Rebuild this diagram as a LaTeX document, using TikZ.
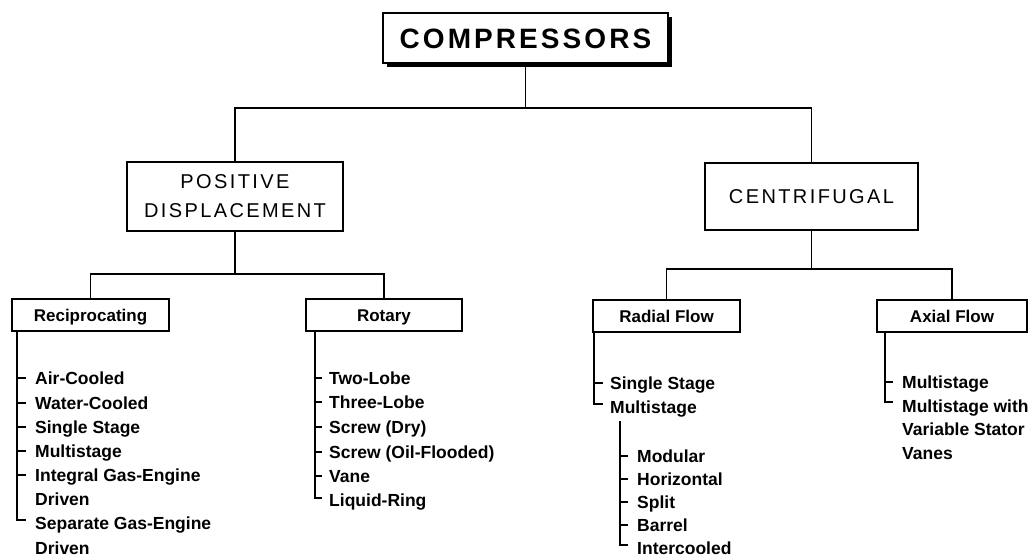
\documentclass[tikz,border=0pt]{standalone}
\usepackage{fontspec}
\setmainfont{Liberation Sans}
\usetikzlibrary{shadows}
\begin{document}
\begin{tikzpicture}[x=1pt,y=-1pt,
  topbox/.style={draw, line width=2.6pt, fill=white, minimum width=285pt, minimum height=50pt, inner sep=0pt,
     text height=20pt, text depth=0pt,
     drop shadow={shadow xshift=4pt, shadow yshift=-4pt, fill=black, opacity=1},
     font=\bfseries\addfontfeatures{LetterSpace=11}\fontsize{28}{32}\selectfont},
  midbox/.style={draw, line width=2pt, fill=white, inner sep=0pt, align=center,
     font=\addfontfeatures{LetterSpace=12}\fontsize{20}{29}\selectfont},
  subbox/.style={draw, line width=2pt, fill=white, minimum height=32pt, inner sep=0pt,
     text height=12.2pt, text depth=0pt,
     drop shadow={shadow xshift=1.2pt, shadow yshift=-1.2pt, fill=black, opacity=1},
     font=\bfseries\fontsize{17}{20}\selectfont},
  item/.style={anchor=west, inner sep=0pt, text height=12.6pt, text depth=0pt,
     font=\bfseries\fontsize{17.5}{20}\selectfont},
  conn/.style={line width=1.8pt},
  spine/.style={line width=2.4pt},
  tick/.style={line width=1.8pt}]
\useasboundingbox (0,0) rectangle (1028,558);

% boxes
\node[topbox] (top) at (525.5,38) {COMPRESSORS};
\node[midbox, minimum width=216pt, minimum height=69pt] (pd) at (235,196.5) {POSITIVE\\DISPLACEMENT};
\node[midbox, minimum width=213pt, minimum height=67pt, text height=14pt, text depth=0pt] (cent) at (811.5,196.5) {CENTRIFUGAL};
\node[subbox, minimum width=157pt] (rec) at (90.5,315) {Reciprocating};
\node[subbox, minimum width=156pt] (rot) at (384,315) {Rotary};
\node[subbox, minimum width=147pt] (rad) at (666.5,316) {Radial Flow};
\node[subbox, minimum width=150pt] (ax) at (952,316) {Axial Flow};

% junction coordinates
\coordinate (j1) at (524,108);
\coordinate (j2) at (233,274);
\coordinate (j3) at (814,269);

% connectors
\draw[conn] (top.south) -- (top.south |- j1);
\draw[conn] (pd.north) -- (pd.north |- j1) -- (cent.north |- j1) -- (cent.north);
\draw[conn] (pd.south) -- (pd.south |- j2);
\draw[conn] (rec.north) -- (rec.north |- j2) -- (rot.north |- j2) -- (rot.north);
\draw[conn] (cent.south) -- (cent.south |- j3);
\draw[conn] (rad.north) -- (rad.north |- j3) -- (ax.north |- j3) -- (ax.north);

% Reciprocating list
\coordinate (sr) at (17,0);
\node[item] (r1) at (35,378) {Air-Cooled};
\node[item] (r2) at (35,403) {Water-Cooled};
\node[item] (r3) at (35,427) {Single Stage};
\node[item] (r4) at (35,451) {Multistage};
\node[item] (r5) at (35,475) {Integral Gas-Engine};
\node[item] (r5b) at (35,499) {Driven};
\node[item] (r6) at (35,523) {Separate Gas-Engine};
\node[item] (r6b) at (35,548) {Driven};
\draw[spine] (rec.south -| sr) -- ([yshift=3pt]sr |- r6.west) -- ([xshift=-9pt,yshift=3pt]r6.west);
\foreach \n in {r1,r2,r3,r4,r5}
  \draw[tick] (sr |- \n.west) -- ([xshift=-9pt]\n.west);

% Rotary list
\coordinate (so) at (315,0);
\node[item] (o1) at (329,378) {Two-Lobe};
\node[item] (o2) at (329,402) {Three-Lobe};
\node[item] (o3) at (329,427) {Screw (Dry)};
\node[item] (o4) at (329,452) {Screw (Oil-Flooded)};
\node[item] (o5) at (329,476) {Vane};
\node[item] (o6) at (329,500) {Liquid-Ring};
\draw[spine] (rot.south -| so) -- ([yshift=2pt]so |- o6.west) -- ([xshift=-7pt,yshift=2pt]o6.west);
\foreach \n in {o1,o2,o3,o4,o5}
  \draw[tick] (so |- \n.west) -- ([xshift=-7pt]\n.west);

% Radial list
\coordinate (sa) at (594,0);
\node[item] (a1) at (610,383) {Single Stage};
\node[item] (a2) at (610,407) {Multistage};
\draw[spine] (rad.south -| sa) -- ([yshift=3pt]sa |- a2.west) -- ([xshift=-7pt,yshift=3pt]a2.west);
\draw[tick] (sa |- a1.west) -- ([xshift=-7pt]a1.west);

% Multistage sub list
\coordinate (sm) at (620,421);
\node[item] (m1) at (637,456) {Modular};
\node[item] (m2) at (637,479) {Horizontal};
\node[item] (m3) at (637,502) {Split};
\node[item] (m4) at (637,525) {Barrel};
\node[item] (m5) at (637,548) {Intercooled};
\draw[spine] (sm) -- ([yshift=3pt]sm |- m5.west) -- ([xshift=-9pt,yshift=3pt]m5.west);
\foreach \n in {m1,m2,m3,m4}
  \draw[tick] (sm |- \n.west) -- ([xshift=-9pt]\n.west);

% Axial list
\coordinate (sx) at (885,0);
\node[item] (x1) at (902,382) {Multistage};
\node[item] (x2) at (902,406) {Multistage with};
\node[item] (x2b) at (902,429) {Variable Stator};
\node[item] (x2c) at (902,453) {Vanes};
\draw[spine] (ax.south -| sx) -- ([yshift=4pt]sx |- x2.west) -- ([xshift=-9pt,yshift=4pt]x2.west);
\draw[tick] (sx |- x1.west) -- ([xshift=-9pt]x1.west);
\end{tikzpicture}
\end{document}
